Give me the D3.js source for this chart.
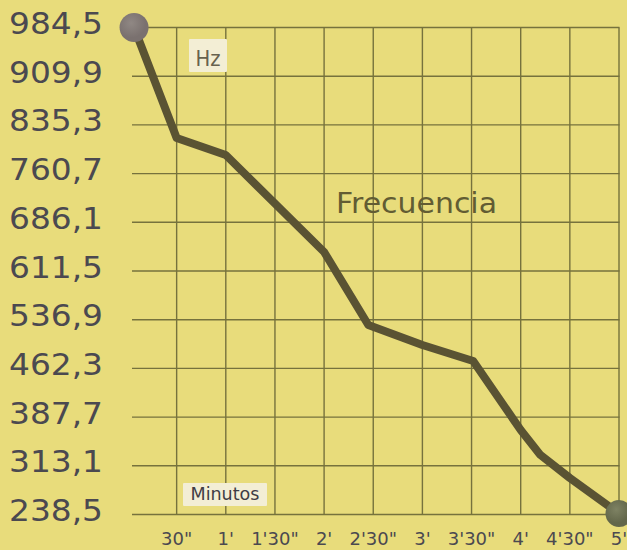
<!DOCTYPE html>
<html>
<head>
<meta charset="utf-8">
<script src="https://cdn.jsdelivr.net/npm/d3@7/dist/d3.min.js"></script>
<style>
  html, body { margin: 0; padding: 0; background: #e8dc7b; }
  svg { display: block; }
</style>
</head>
<body>
<svg id="chart" width="627" height="550"></svg>
<script>
// Frequency (Hz) sampled over five minutes; time in seconds
const seconds = [4, 30, 60, 120, 147, 180, 211, 240, 252, 270, 300];
const frequency = [984.5, 815.2, 789.2, 640.6, 528.8, 498.2, 473.6, 367.9, 329.7, 294.4, 240.0];

// Axis ticks
const yTicks = [984.5, 909.9, 835.3, 760.7, 686.1, 611.5, 536.9, 462.3, 387.7, 313.1, 238.5];
const yTickLabels = ["984,5", "909,9", "835,3", "760,7", "686,1", "611,5", "536,9", "462,3", "387,7", "313,1", "238,5"];
const xTicks = [30, 60, 90, 120, 150, 180, 210, 240, 270, 300];
const xTickLabels = ["30\"", "1'", "1'30\"", "2'", "2'30\"", "3'", "3'30\"", "4'", "4'30\"", "5'"];

const svg = d3.select("#chart");
const font = "'DejaVu Sans', sans-serif";

const x = d3.scaleLinear().domain([0, 300]).range([127.5, 619]);
const y = d3.scaleLinear().domain([238.5, 984.5]).range([514.5, 27.5]);

svg.append("rect").attr("width", 627).attr("height", 550).attr("fill", "#e8dc7b");

// Grid
const grid = svg.append("g").attr("stroke", "#76723d").attr("stroke-width", 1.4);
grid.selectAll("line.h").data(yTicks).join("line")
  .attr("class", "h")
  .attr("x1", 132).attr("x2", x(300) + 0.5)
  .attr("y1", d => y(d)).attr("y2", d => y(d));
grid.selectAll("line.v").data(xTicks).join("line")
  .attr("class", "v")
  .attr("x1", d => x(d)).attr("x2", d => x(d))
  .attr("y1", y(984.5)).attr("y2", y(238.5));

// Y labels
svg.append("g").selectAll("text").data(yTicks).join("text")
  .attr("x", 9).attr("y", d => y(d) + 6.5)
  .attr("font-family", font).attr("font-size", 30)
  .attr("fill", "#4b4950")
  .attr("textLength", 94).attr("lengthAdjust", "spacingAndGlyphs")
  .text((d, i) => yTickLabels[i]);

// X labels
svg.append("g").selectAll("text").data(xTicks).join("text")
  .attr("x", d => x(d)).attr("y", 545)
  .attr("text-anchor", "middle")
  .attr("font-family", font).attr("font-size", 18)
  .attr("fill", "#4b4950")
  .text((d, i) => xTickLabels[i]);

// Unit tags
function tag(cx, top, w, h, label, size, color, len) {
  svg.append("rect")
    .attr("x", cx - w / 2).attr("y", top).attr("width", w).attr("height", h)
    .attr("fill", "#f3eed5").attr("rx", 1);
  svg.append("text")
    .attr("x", cx).attr("y", top + h - 6)
    .attr("text-anchor", "middle")
    .attr("font-family", font).attr("font-size", size)
    .attr("fill", color)
    .attr("textLength", len).attr("lengthAdjust", "spacingAndGlyphs")
    .text(label);
}
tag(208, 39, 38, 33, "Hz", 21, "#67624f", 25);
tag(225, 483, 84, 23, "Minutos", 17, "#3f3d45", 69);

// Series title
svg.append("text")
  .attr("x", 336).attr("y", 213)
  .attr("font-family", font).attr("font-size", 28)
  .attr("fill", "#625c33")
  .attr("textLength", 161).attr("lengthAdjust", "spacingAndGlyphs")
  .text("Frecuencia");

// Line
const pts = seconds.map((s, i) => [s, frequency[i]]);
svg.append("path")
  .datum(pts)
  .attr("fill", "none")
  .attr("stroke", "#5a5333")
  .attr("stroke-width", 8)
  .attr("stroke-linejoin", "round")
  .attr("stroke-linecap", "round")
  .attr("d", d3.line().x(d => x(d[0])).y(d => y(d[1])));

// End markers
const defs = svg.append("defs");
const g1 = defs.append("radialGradient").attr("id", "startDot").attr("cx", "40%").attr("cy", "35%");
g1.append("stop").attr("offset", "0%").attr("stop-color", "#908884");
g1.append("stop").attr("offset", "100%").attr("stop-color", "#7a716f");
const g2 = defs.append("radialGradient").attr("id", "endDot").attr("cx", "40%").attr("cy", "35%");
g2.append("stop").attr("offset", "0%").attr("stop-color", "#7e8263");
g2.append("stop").attr("offset", "100%").attr("stop-color", "#62664a");

svg.append("circle")
  .attr("cx", x(seconds[0])).attr("cy", y(frequency[0]))
  .attr("r", 14.5).attr("fill", "url(#startDot)");
svg.append("circle")
  .attr("cx", x(seconds[seconds.length - 1])).attr("cy", y(frequency[frequency.length - 1]))
  .attr("r", 13.5).attr("fill", "url(#endDot)");
</script>
</body>
</html>
